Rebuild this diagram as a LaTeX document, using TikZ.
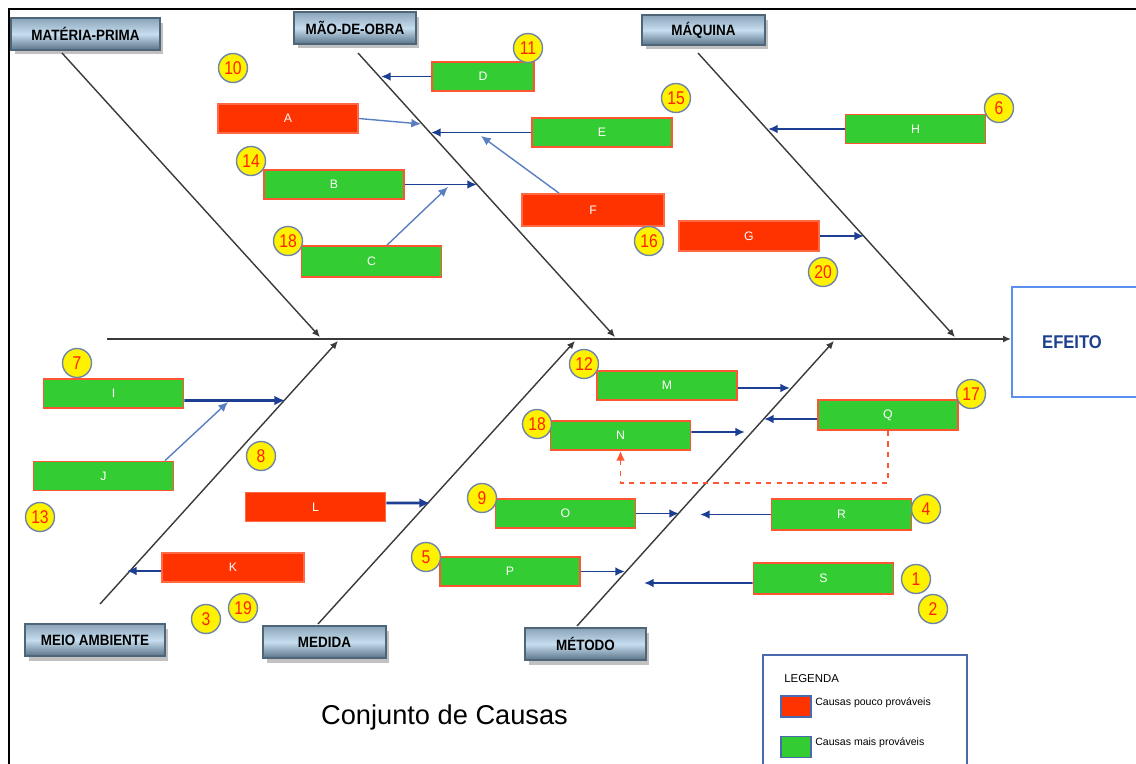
\documentclass[tikz,border=0pt]{standalone}
\usepackage{fontspec}
\setmainfont{Liberation Sans}
\newfontfamily\catfont[FakeStretch=0.9]{Liberation Sans}
\newfontfamily\numfont[FakeStretch=0.85]{Liberation Sans}
\usetikzlibrary{arrows.meta,shadows}
\definecolor{cgreen}{HTML}{33CC33}
\definecolor{cred}{HTML}{FF3300}
\definecolor{cborder}{HTML}{FF5533}
\definecolor{credb}{HTML}{FF6A45}
\definecolor{navy}{HTML}{1C3F94}
\definecolor{lblue}{HTML}{5A7FC0}
\definecolor{bonegray}{HTML}{3A3A3A}
\definecolor{cattop}{HTML}{8AA3B8}
\definecolor{catmid}{HTML}{C6DEEF}
\definecolor{catbot}{HTML}{5A7388}
\definecolor{catline}{HTML}{4F6578}
\definecolor{numline}{HTML}{6F86A8}
\definecolor{numred}{HTML}{FF2200}
\definecolor{efblue}{HTML}{5B8FF0}
\definecolor{eftext}{HTML}{1F3F8F}
\definecolor{legblue}{HTML}{4A6AB0}
\tikzset{
  catbox/.style={draw=catline, line width=0.6pt, top color=cattop, bottom color=catbot, middle color=catmid,
    minimum height=0.64cm, inner sep=0pt, font=\catfont\bfseries\fontsize{8.5}{10}\selectfont,
    drop shadow={shadow xshift=0.07cm, shadow yshift=-0.09cm, fill=black!35, opacity=0.7}},
  causeG/.style={draw=cborder, line width=1pt, fill=cgreen, text=white, minimum width=2.8cm,
    minimum height=0.58cm, inner sep=0pt, font=\fontsize{7}{8}\selectfont},
  causeR/.style={causeG, fill=cred, draw=credb},
  num/.style={circle, fill=yellow, draw=numline, line width=0.8pt, minimum size=0.58cm, inner sep=0pt,
    text=numred, font=\numfont\fontsize{10.5}{11}\selectfont},
  bone/.style={draw=bonegray, line width=0.8pt, -{Latex[length=4.5pt,width=4pt]}},
  barrow/.style={draw=navy, line width=1.1pt, -{Latex[length=5.5pt,width=5pt]}},
  thickarrow/.style={draw=navy, line width=1.5pt, -{Latex[length=6pt,width=5.5pt]}},
  larrow/.style={draw=lblue, line width=0.8pt, -{Latex[length=5.5pt,width=5pt]}},
  dasharrow/.style={draw=cborder, line width=1pt, dashed, -{Latex[length=5.5pt,width=5pt]}},
}
\begin{document}
\begin{tikzpicture}[x=0.02cm, y=-0.02cm]
\useasboundingbox (0,0) rectangle (1136,764);
\draw[line width=1.2pt] (9,764) -- (9,9) -- (1136,9);

% category boxes
\node[catbox, minimum width=2.98cm] (mp) at (85.5,34) {MATÉRIA-PRIMA};
\node[catbox, minimum width=2.44cm] (mo) at (355,28) {MÃO-DE-OBRA};
\node[catbox, minimum width=2.46cm, minimum height=0.6cm] (maq) at (703.5,30) {MÁQUINA};
\node[catbox, minimum width=2.8cm] (ma) at (95,640) {MEIO AMBIENTE};
\node[catbox, minimum width=2.46cm] (med) at (324.5,642) {MEDIDA};
\node[catbox, minimum width=2.42cm] (met) at (585.5,644) {MÉTODO};

% effect box
\node[draw=efblue, line width=1.2pt, fill=white, minimum width=2.7cm, minimum height=2.2cm,
  text=eftext, font=\catfont\bfseries\fontsize{10.5}{12}\selectfont] (efeito) at (1079.5,342) {\hspace*{-0.3cm}EFEITO};

% spine
\coordinate (spS) at (107,339);
\draw[bone] (spS) -- (spS -| efeito.west);

% bones
\coordinate (mpS) at (62,53);   \coordinate (mpE) at (320,337);
\coordinate (moS) at (358,53);  \coordinate (moE) at (615,337);
\coordinate (maqS) at (698,53); \coordinate (maqE) at (955,337);
\coordinate (maS) at (100,604); \coordinate (maE) at (338,341);
\coordinate (medS) at (318,624); \coordinate (medE) at (575,341);
\coordinate (metS) at (577,626); \coordinate (metE) at (834,341);
\draw[bone] (mpS) -- (mpE);
\draw[bone] (moS) -- (moE);
\draw[bone] (maqS) -- (maqE);
\draw[bone] (maS) -- (maE);
\draw[bone] (medS) -- (medE);
\draw[bone] (metS) -- (metE);

% cause boxes
\node[causeR] (A) at (288,118.5) {A};
\node[causeG, minimum width=2.04cm] (D) at (483,76.5) {D};
\node[causeG] (E) at (602,132.5) {E};
\node[causeG] (H) at (915.5,129) {H};
\node[causeG] (B) at (334,184.5) {B};
\node[causeG, minimum height=0.62cm] (C) at (371.5,261.5) {C};
\node[causeR, minimum width=2.84cm, minimum height=0.64cm] (F) at (593,210) {F};
\node[causeR, minimum height=0.6cm] (G) at (749,236) {G};
\node[causeG] (I) at (113.5,393.5) {I};
\node[causeG] (J) at (103.5,476) {J};
\node[causeR] (L) at (315.5,507) {L};
\node[causeR, minimum width=2.84cm] (K) at (233,567.5) {K};
\node[causeG] (M) at (667,385.5) {M};
\node[causeG] (N) at (620.5,435.5) {N};
\node[causeG, minimum height=0.6cm] (Q) at (888,415) {Q};
\node[causeG] (O) at (565.5,513.5) {O};
\node[causeG, minimum height=0.62cm] (R) at (841.5,514.5) {R};
\node[causeG] (P) at (510,571.5) {P};
\node[causeG, minimum height=0.62cm] (S) at (823.5,578.5) {S};

% cause arrows
\coordinate (dT) at (381,76.5);
\coordinate (aT) at (421,124);
\coordinate (eT) at (431,132.5);
\coordinate (fT) at (481,136);
\coordinate (bT) at (477,184.5);
\coordinate (cT) at (448,187);
\coordinate (hT) at (768,129);
\coordinate (gT) at (864,236);
\coordinate (iT) at (285,400.5);
\coordinate (jT) at (228,402);
\coordinate (lT) at (430,503);
\coordinate (kT) at (127,571);
\coordinate (mT) at (790,388);
\coordinate (nT) at (745,432);
\coordinate (qT) at (764,419);
\coordinate (oT) at (679,513.5);
\coordinate (rT) at (700,514.5);
\coordinate (pT) at (625,571.5);
\coordinate (sT) at (644,583);

\draw[barrow] (D.west) -- (dT);
\draw[larrow] (A.east) -- (aT);
\draw[barrow] (E.west) -- (eT);
\draw[larrow] ([xshift=-0.68cm]F.north) -- (fT);
\draw[barrow] (B.east) -- (bT);
\draw[larrow] ([xshift=0.31cm]C.north) -- (cT);
\draw[barrow] (H.west) -- (hT);
\draw[barrow] (G.east) -- (gT);
\draw[thickarrow] ([yshift=-0.14cm]I.east) -- (iT);
\draw[larrow] ([xshift=1.23cm]J.north) -- (jT);
\draw[thickarrow] ([yshift=0.08cm]L.east) -- (lT);
\draw[barrow] ([yshift=-0.07cm]K.west) -- (kT);
\draw[barrow] ([yshift=-0.05cm]M.east) -- (mT);
\draw[barrow] ([yshift=0.07cm]N.east) -- (nT);
\draw[barrow] ([yshift=-0.08cm]Q.west) -- (qT);
\draw[barrow] (O.east) -- (oT);
\draw[barrow] (R.west) -- (rT);
\draw[barrow] (P.east) -- (pT);
\draw[barrow] ([yshift=-0.09cm]S.west) -- (sT);
\draw[dasharrow] (Q.south) -- (Q.south |- 0,483) -| (N.south);

% numbers
\node[num] (n10) at (233,68) {10};
\node[num] (n11) at (528,48) {11};
\node[num] (n15) at (676,98) {15};
\node[num] (n6) at (999,108) {6};
\node[num] (n14) at (251,161) {14};
\node[num] (n18a) at (288,241) {18};
\node[num] (n16) at (649,241) {16};
\node[num] (n20) at (823,272) {20};
\node[num] (n7) at (77,363) {7};
\node[num] (n8) at (261,456) {8};
\node[num] (n13) at (40,517) {13};
\node[num] (n12) at (584,364) {12};
\node[num] (n18b) at (537,424) {18};
\node[num] (n17) at (971,394) {17};
\node[num] (n9) at (482,498) {9};
\node[num] (n4) at (926,509) {4};
\node[num] (n5) at (426,557) {5};
\node[num] (n1) at (916,579) {1};
\node[num] (n2) at (933,609) {2};
\node[num] (n3) at (206,619) {3};
\node[num] (n19) at (243,608) {19};

% title
\node[font=\fontsize{15.5}{18}\selectfont] (title) at (444.5,717) {Conjunto de Causas};

% legend
\node[draw=legblue, line width=0.8pt, minimum width=4.08cm, minimum height=2.4cm, inner sep=0pt] (legend) at (865,715) {};
\node[anchor=west, font=\fontsize{6.5}{8}\selectfont, inner sep=0pt] (legT) at (784,679) {LEGENDA};
\node[draw=legblue, line width=0.8pt, fill=cred, minimum width=0.6cm, minimum height=0.42cm, inner sep=0pt] (legR) at (796,706.5) {};
\node[draw=legblue, line width=0.8pt, fill=cgreen, minimum width=0.6cm, minimum height=0.42cm, inner sep=0pt] (legG) at (796,747) {};
\node[anchor=west, font=\fontsize{6}{7}\selectfont, inner sep=0pt] (legRt) at (815,703) {Causas pouco prováveis};
\node[anchor=west, font=\fontsize{6}{7}\selectfont, inner sep=0pt] (legGt) at (815,743) {Causas mais prováveis};
\end{tikzpicture}
\end{document}
